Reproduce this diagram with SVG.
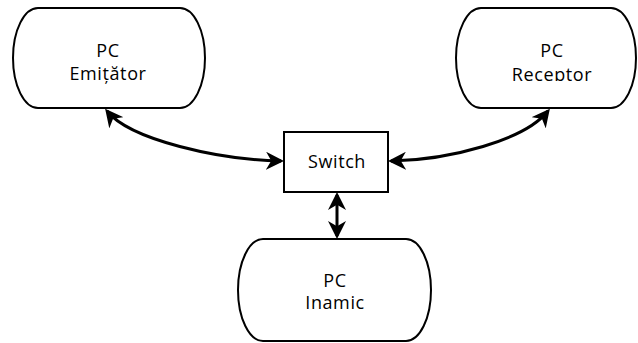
<svg xmlns="http://www.w3.org/2000/svg" width="638" height="343" viewBox="0 0 638 343">
<style>
.node{fill:#fff;stroke:#000;stroke-width:2}
.lbl{font-family:"Open Sans","Lato",sans-serif;font-size:18px;fill:#000;text-anchor:middle;letter-spacing:0.6px}
.con{fill:none;stroke:#000;stroke-width:3}
</style>
<defs>
<marker id="ah" viewBox="0 0 12 12" refX="10" refY="6" markerWidth="6" markerHeight="6" orient="auto-start-reverse" markerUnits="strokeWidth">
<path d="M0,0 L12,6 L0,12 L3.5,6 Z" fill="#000"/>
</marker>
<clipPath id="rc"><rect x="440" y="0" width="198" height="81"/></clipPath>
</defs>
<rect width="638" height="343" fill="#fff"/>
<g id="connectors">
<path class="con" d="M107,111 C130,140 220,160 281,161" marker-start="url(#ah)" marker-end="url(#ah)"/>
<path class="con" d="M548,111 C525,140 450,160 391,161" marker-start="url(#ah)" marker-end="url(#ah)"/>
<path class="con" d="M337,195 L337,236" marker-start="url(#ah)" marker-end="url(#ah)"/>
</g>
<g id="emitator">
<path class="node" d="M38,8 H180 A25,50 0 0 1 180,108 H38 A25,50 0 0 1 38,8 Z"/>
<text class="lbl" x="108" y="57">PC</text>
<text class="lbl" x="108" y="80">Emițător</text>
</g>
<g id="receptor">
<path class="node" d="M481,8 H611 A25,50 0 0 1 611,108 H481 A25,50 0 0 1 481,8 Z"/>
<text class="lbl" x="552" y="57">PC</text>
<text class="lbl" x="552" y="81" clip-path="url(#rc)">Receptor</text>
</g>
<g id="switch">
<rect class="node" x="284" y="132" width="104" height="60"/>
<text class="lbl" x="337" y="168">Switch</text>
</g>
<g id="inamic">
<path class="node" d="M263,239 H406 A25,51 0 0 1 406,341 H263 A25,51 0 0 1 263,239 Z"/>
<text class="lbl" x="335" y="287">PC</text>
<text class="lbl" x="335" y="309">Inamic</text>
</g>
</svg>
